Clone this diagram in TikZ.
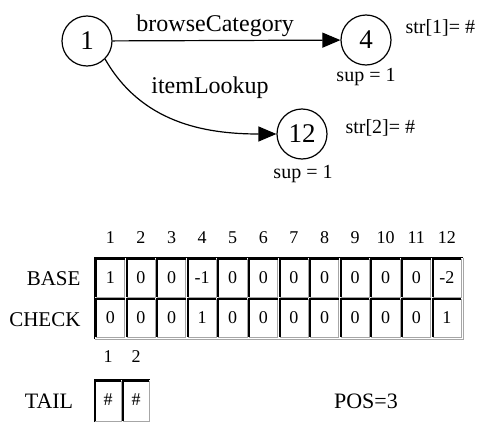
\documentclass[tikz,border=0pt]{standalone}
\usepackage{fontspec}
\setmainfont{Liberation Serif}
\usetikzlibrary{arrows.meta}

\begin{document}
\begin{tikzpicture}[x=1pt, y=-1pt,
        state/.style={circle, draw, line width=1.2pt, minimum size=50pt, inner sep=0pt, font=\fontsize{27}{30}\selectfont},
        trans/.style={line width=1.2pt, -{Triangle[length=18pt, width=15pt]}},
        edgelbl/.style={font=\fontsize{24}{28}\selectfont},
        note/.style={font=\fontsize{20}{24}\selectfont},
        rowlbl/.style={font=\fontsize{21}{24}\selectfont},
        idx/.style={font=\fontsize{18}{21}\selectfont},
        val/.style={font=\fontsize{18}{21}\selectfont},
        cellhi/.style={line width=2pt},
        celllo/.style={line width=1pt, gray!70}]
        \useasboundingbox (0, 0) rectangle (480, 423);

        % trie
        \node[state] (n1) at (87, 41) {1};
        \node[state] (n4) at (366, 40) {4};
        \node[state] (n12) at (302, 134) {12};
        \draw[trans] (n1) -- node[edgelbl, above, pos=0.45] (lbbrowse) {browseCategory} (n4);
        \draw[trans] (n1.-45) .. controls +(36, 63) and +(-73, 0) .. (n12.west);
        \node[edgelbl] (lbitem) at (210, 88) {itemLookup};
        \node[note, anchor=west] (str1) at (402, 28) {str[1]= \#};
        \node[note] (sup4) at (366, 77) {sup = 1};
        \node[note, anchor=west] (str2) at (342, 128) {str[2]= \#};
        \node[note] (sup12) at (303, 174) {sup = 1};

        % double array
        \node[rowlbl, anchor=east] (base) at (84, 279) {BASE};
        \node[rowlbl, anchor=east] (check) at (84, 320) {CHECK};
        \foreach \i in {1,...,12}
            \node[idx] (col\i) at ({95+(\i-0.5)*30.6}, 238) {\i};
        \foreach \v [count=\i] in {1,0,0,-1,0,0,0,0,0,0,0,-2}
            \node[val] (base\i) at ({95+(\i-0.5)*30.6}, 278) {\v};
        \foreach \v [count=\i] in {0,0,0,1,0,0,0,0,0,0,0,1}
            \node[val] (check\i) at ({95+(\i-0.5)*30.6}, 318) {\v};
        \foreach \i in {0,...,11}
            \foreach \r in {0,1} {
                \draw[celllo] ({95+\i*30.6+29.6}, {258+\r*40+1}) |- ({95+\i*30.6+1}, {258+\r*40+39});
                \draw[cellhi] ({95+\i*30.6+1}, {258+\r*40+39}) |- ({95+\i*30.6+29.6}, {258+\r*40+1});
            }
        \draw[line width=1pt] (94.5, 339) |- (463, 257.5);
        \draw[celllo] (463, 257.5) |- (94.5, 339);

        % tail
        \node[rowlbl, font=\fontsize{22}{26}\selectfont] (tail) at (49, 401) {TAIL};
        \foreach \i in {1,2} {
            \node[idx] (tidx\i) at ({94+(\i-0.5)*28}, 357) {\i};
            \node[val] (tail\i) at ({94+(\i-0.5)*28}, 400) {\#};
            \draw[celllo] ({94+\i*28-1}, 381) |- ({94+(\i-1)*28+1}, 421);
            \draw[cellhi] ({94+(\i-1)*28+1}, 421) |- ({94+\i*28-1}, 381);
        }
        \draw[line width=1pt] (94.5, 422) |- (150, 379.5);
        \node[rowlbl, font=\fontsize{22}{26}\selectfont] (pos) at (366, 401) {POS=3};
    \end{tikzpicture}
\end{document}
